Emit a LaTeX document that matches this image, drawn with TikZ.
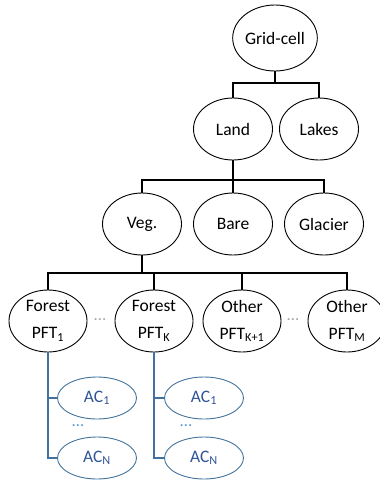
\documentclass[tikz,border=0pt]{standalone}
\usepackage{fontspec}
\setmainfont{Carlito}
\usetikzlibrary{shapes.geometric}
\definecolor{acline}{HTML}{41719C}
\definecolor{actext}{HTML}{2F5597}
\definecolor{acdots}{HTML}{5B9BD5}
\definecolor{gdots}{HTML}{A6A6A6}
\begin{document}
\begin{tikzpicture}[x=1pt,y=-1pt,
  el/.style={draw, ellipse, line width=0.9pt, minimum width=79pt, minimum height=62pt,
    inner sep=0pt, font=\fontsize{17.5}{27}\selectfont, align=center},
  ac/.style={draw=acline, ellipse, line width=0.9pt, minimum width=79pt, minimum height=42pt,
    inner sep=0pt, text=actext, font=\fontsize{17.5}{21}\selectfont},
  conn/.style={line width=1.3pt},
  acconn/.style={draw=acline, line width=1.3pt},
  gdot/.style={text=gdots, font=\fontsize{17}{19}\selectfont, inner sep=0pt},
  bdot/.style={text=acdots, font=\fontsize{17}{19}\selectfont, inner sep=0pt}
]
\useasboundingbox (0,0) rectangle (380,480);
% level 0
\node[el, minimum width=80pt, minimum height=66pt] (grid) at (275,38) {Grid-cell};
% level 1
\node[el] (land) at (233,129) {Land};
\node[el] (lakes) at (319,129) {Lakes};
% level 2
\node[el] (veg) at (142,224) {Veg.};
\node[el] (bare) at (233,224) {Bare};
\node[el] (glacier) at (324,224) {Glacier};
% level 3
\node[el, minimum width=78pt] (f1) at (48,321) {Forest\\PFT\textsubscript{1}};
\node[el, minimum width=78pt] (fk) at (154,321) {Forest\\PFT\textsubscript{K}};
\node[el, minimum width=78pt] (ok) at (242,321) {Other\\PFT\textsubscript{K+1}};
\node[el, minimum width=78pt] (om) at (347,321) {Other\\PFT\textsubscript{M}};
\node[gdot] (d1) at (100,320) {\dots};
\node[gdot] (d2) at (293,320) {\dots};
% age classes
\node[ac] (a1) at (97,398) {AC\textsubscript{1}};
\node[ac] (an) at (97,458) {AC\textsubscript{N}};
\node[ac] (b1) at (204,398) {AC\textsubscript{1}};
\node[ac] (bn) at (204,458) {AC\textsubscript{N}};
\node[bdot] (ad) at (78,426) {\dots};
\node[bdot] (bd) at (186,426) {\dots};
% connectors
\coordinate (j1) at (275,83);
\draw[conn] (grid.south) -- (j1);
\draw[conn] (land.north) |- (j1) -| (lakes.north);
\coordinate (j2) at (233,180);
\draw[conn] (land.south) -- (bare.north);
\draw[conn] (veg.north) |- (j2) -| (glacier.north);
\coordinate (j3) at (142,273);
\draw[conn] (veg.south) -- (j3);
\draw[conn] (f1.north) |- (j3) -| (om.north);
\draw[conn] (fk.north) |- (j3);
\draw[conn] (ok.north) |- (j3);
\draw[acconn] (f1.south) |- (a1.west);
\draw[acconn] (f1.south) |- (an.west);
\draw[acconn] (fk.south) |- (b1.west);
\draw[acconn] (fk.south) |- (bn.west);
\end{tikzpicture}
\end{document}
